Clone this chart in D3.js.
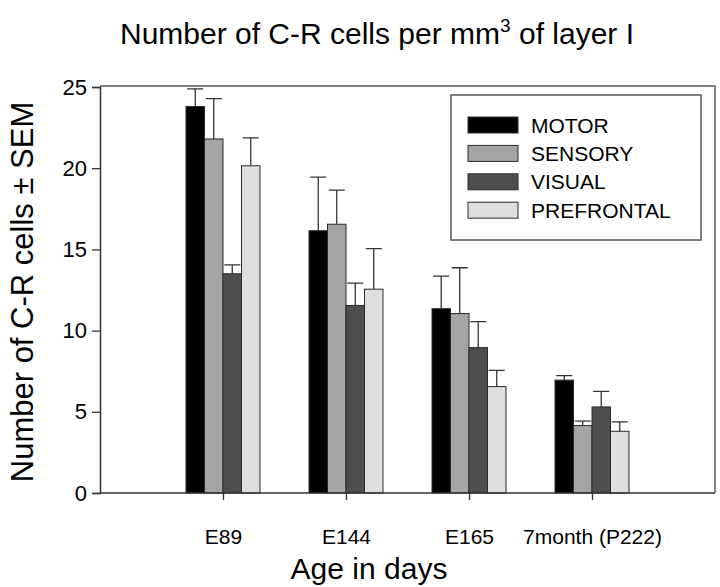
<!DOCTYPE html>
<html>
<head>
<meta charset="utf-8">
<script src="https://cdn.jsdelivr.net/npm/d3@7"></script>
<style>
  html, body { margin: 0; padding: 0; background: #fff; }
  svg { display: block; font-family: "Liberation Sans", Arial, sans-serif; }
</style>
</head>
<body>
<svg id="chart" width="720" height="587"></svg>
<script>
// ---- data ----
const categories = ["E89", "E144", "E165", "7month (P222)"];
const series = ["MOTOR", "SENSORY", "VISUAL", "PREFRONTAL"];
const motorValues      = [23.8, 16.15, 11.35, 6.95];
const sensoryValues    = [21.8, 16.55, 11.05, 4.15];
const visualValues     = [13.5, 11.55, 8.95, 5.3];
const prefrontalValues = [20.15, 12.55, 6.55, 3.8];
const motorSem      = [1.08, 3.3, 2.0, 0.28];
const sensorySem    = [2.48, 2.1, 2.82, 0.28];
const visualSem     = [0.55, 1.37, 1.6, 0.96];
const prefrontalSem = [1.72, 2.5, 1.0, 0.58];
const yTicks = [0, 5, 10, 15, 20, 25];
const seriesColors = ["#000000", "#a4a4a4", "#4e4e4e", "#dedede"];

const valuesBySeries = [motorValues, sensoryValues, visualValues, prefrontalValues];
const semBySeries = [motorSem, sensorySem, visualSem, prefrontalSem];

const rows = [];
categories.forEach((c, i) => {
  series.forEach((s, j) => {
    rows.push({ cat: c, ci: i, series: s, sj: j, value: valuesBySeries[j][i], sem: semBySeries[j][i] });
  });
});

// ---- layout ----
const svg = d3.select("#chart");
const x = d3.scaleLinear().domain([0, 5]).range([100, 715]);
const y = d3.scaleLinear().domain([0, 25]).range([493, 87]);
const inner = d3.scaleBand().domain(series).range([-37, 37]).paddingInner(0);
const color = d3.scaleOrdinal().domain(series).range(seriesColors);

// frame (top and right)
svg.append("path")
  .attr("d", `M${x(0)},${y(25) - 1}H${x(5)}V${y(0)}`)
  .attr("fill", "none").attr("stroke", "#555").attr("stroke-width", 1.5);

// bars
svg.append("g").selectAll("rect").data(rows).join("rect")
  .attr("x", d => x(d.ci + 1) + inner(d.series))
  .attr("y", d => y(d.value))
  .attr("width", inner.bandwidth())
  .attr("height", d => y(0) - y(d.value))
  .attr("fill", d => color(d.series))
  .attr("stroke", "#2a2a2a").attr("stroke-width", 1);

// error bars
const eb = svg.append("g").attr("stroke", "#333").attr("stroke-width", 1.3).attr("fill", "none");
eb.selectAll("path").data(rows).join("path")
  .attr("d", d => {
    const cx = x(d.ci + 1) + inner(d.series) + inner.bandwidth() / 2;
    const y0 = y(d.value), y1 = y(d.value + d.sem);
    return `M${cx},${y0}V${y1}M${cx - 8},${y1}H${cx + 8}`;
  });

// y axis
const yAxis = svg.append("g").attr("transform", `translate(${x(0)},0)`)
  .call(d3.axisLeft(y).tickValues(yTicks).tickSize(8).tickPadding(5).tickFormat(d3.format("d")));
yAxis.select(".domain").attr("stroke", "#333").attr("stroke-width", 1.5);
yAxis.selectAll(".tick line").attr("stroke", "#333").attr("stroke-width", 1.3);
yAxis.selectAll("text").attr("font-size", 22).attr("fill", "#000")
  .attr("font-family", "Liberation Sans, Arial, sans-serif");

// x axis
const xAxis = svg.append("g").attr("transform", `translate(0,${y(0)})`)
  .call(d3.axisBottom(x).tickValues([1, 2, 3, 4]).tickSize(7).tickPadding(29)
    .tickFormat(d => categories[d - 1]));
xAxis.select(".domain").attr("d", `M${x(0)},0H${x(5)}`).attr("stroke", "#333").attr("stroke-width", 1.5);
xAxis.selectAll(".tick line").attr("stroke", "#333").attr("stroke-width", 1.3);
xAxis.selectAll("text").attr("font-size", 21).attr("fill", "#000")
  .attr("font-family", "Liberation Sans, Arial, sans-serif");

// legend
const lg = svg.append("g");
lg.append("rect").attr("x", 451).attr("y", 95).attr("width", 250).attr("height", 145)
  .attr("fill", "#fff").attr("stroke", "#555").attr("stroke-width", 1.5);
const li = lg.selectAll("g.item").data(series).join("g").attr("class", "item")
  .attr("transform", (d, i) => `translate(468,${117 + i * 28.4})`);
li.append("rect").attr("width", 50).attr("height", 16)
  .attr("fill", d => color(d)).attr("stroke", "#2a2a2a").attr("stroke-width", 1);
li.append("text").attr("x", 63).attr("y", 8).attr("dy", "0.36em")
  .attr("font-size", 21).attr("fill", "#000").text(d => d);

// title
const t = svg.append("text").attr("x", 377).attr("y", 44).attr("text-anchor", "middle")
  .attr("font-size", 30).attr("fill", "#000");
t.append("tspan").text("Number of C-R cells per mm");
t.append("tspan").attr("font-size", 19).attr("dy", -12).text("3");
t.append("tspan").attr("dy", 12).text(" of layer I");

// axis titles
svg.append("text").attr("x", 369).attr("y", 579).attr("text-anchor", "middle")
  .attr("font-size", 30).attr("fill", "#000").text("Age in days");
svg.append("text").attr("transform", "translate(33,292) rotate(-90)").attr("text-anchor", "middle")
  .attr("font-size", 31).attr("fill", "#000").text("Number of C-R cells  \u00b1 SEM");
</script>
</body>
</html>
